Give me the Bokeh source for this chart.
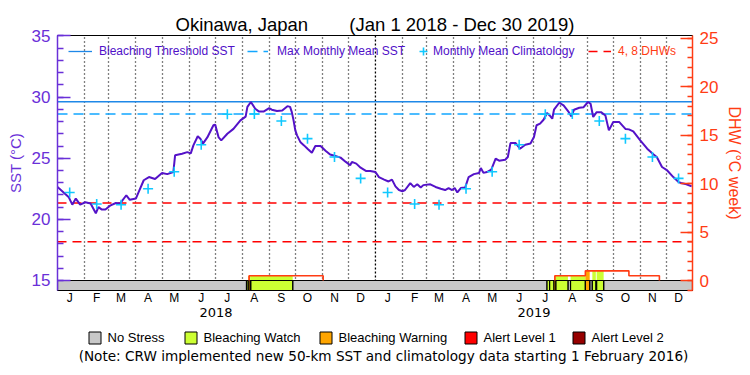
import pandas as pd
from bokeh.plotting import figure
from bokeh.layouts import column
from bokeh.models import (Range1d, LinearAxis, FixedTicker, SingleIntervalTicker,
                          Legend, LegendItem, Label, Span)
from bokeh.embed import file_html
from bokeh.resources import INLINE

# ---------------- data ----------------
START = "2018-01-01"
END = "2019-12-31"          # exclusive end (last day shown: Dec 30 2019)
YEARS = [2018, 2019]
MONTH_LETTERS = ["J", "F", "M", "A", "M", "J", "J", "A", "S", "O", "N", "D"]
TITLE = "Okinawa, Japan\u00a0\u00a0\u00a0\u00a0\u00a0\u00a0\u00a0\u00a0(Jan 1 2018 - Dec 30 2019)"
NOTE = "(Note: CRW implemented new 50-km SST and climatology data starting 1 February 2016)"

# daily SST (sampled) : day offset since 2018-01-01, value in deg C
sst_day = [0, 7, 13, 17, 21, 26, 32, 38, 44, 47, 51, 55, 61, 67, 72, 79, 83, 90, 93, 99,
           105, 112, 120, 126, 133, 135, 143, 149, 153, 156, 161, 164, 167, 172, 179, 181, 185, 188, 195, 202,
           210, 216, 218, 222, 227, 231, 237, 243, 246, 252, 258, 264, 267, 269, 271, 273, 275, 279, 283, 287,
           292, 296, 302, 308, 313, 319, 325, 331, 336, 338, 343, 348, 354, 359, 365, 369, 375, 380, 384, 388,
           392, 396, 399, 405, 409, 413, 417, 420, 428, 434, 440, 445, 449, 453, 456, 459, 463, 468, 472, 478,
           484, 486, 489, 493, 498, 503, 507, 514, 517, 520, 526, 531, 537, 543, 547, 550, 554, 558, 562, 565,
           568, 570, 576, 581, 587, 590, 593, 599, 604, 609, 612, 615, 619, 624, 629, 633, 638, 645, 652, 656,
           661, 669, 677, 684, 688, 694, 700, 707, 713, 716, 722, 728]
sst_val = [22.65, 22.2, 21.8, 21.2, 21.7, 21.2, 21.4, 21.3, 20.5, 21.0,
           20.8, 20.8, 21.15, 21.34, 21.3, 21.97, 21.6, 21.7, 22.2, 23.2,
           23.46, 23.3, 23.8, 23.7, 23.87, 25.24, 25.37, 25.5, 25.4, 26.05,
           26.8, 26.6, 26.2, 26.7, 27.7, 27.75, 26.7, 26.46, 27.0, 27.4,
           28.1, 28.4, 29.2, 29.6, 29.05, 28.83, 28.83, 29.1, 28.97, 28.86,
           28.9, 29.26, 29.2, 28.77, 28.1, 27.28, 26.87, 26.3, 26.05, 25.78,
           25.45, 26.0, 26.0, 25.6, 25.3, 25.18, 25.05, 24.7, 24.42, 24.7,
           24.56, 24.23, 23.96, 23.96, 23.87, 23.46, 23.25, 23.1, 23.25, 22.7,
           22.4, 22.3, 22.4, 22.97, 22.65, 22.87, 22.6, 22.8, 22.87, 22.65,
           22.5, 22.4, 22.56, 22.4, 22.56, 22.2, 22.56, 22.6, 23.46, 23.7,
           23.8, 24.2, 23.8, 23.87, 24.07, 24.97, 24.8, 24.88, 25.1, 26.24,
           26.24, 25.78, 26.1, 26.2, 26.73, 27.7, 27.83, 28.15, 28.7, 28.5,
           28.23, 28.97, 29.54, 29.32, 28.77, 28.42, 28.97, 29.13, 29.18, 29.6,
           29.46, 28.37, 28.77, 28.77, 28.5, 27.28, 27.96, 27.96, 27.4, 27.36,
           27.2, 26.46, 25.78, 25.32, 25.1, 24.28, 24.0, 23.46, 23.05, 22.97,
           22.87, 22.7]

# monthly mean climatology (Jan..Dec)
clim_values = [22.2, 21.25, 21.2, 22.5, 23.9, 26.1, 28.6, 28.62, 28.05, 26.6, 25.1, 23.35]

# bleaching alert status segments (0 no stress, 1 watch, 2 warning, 3 alert 1, 4 alert 2)
status_start = ["2018-01-01", "2018-08-06", "2018-08-08", "2018-08-10", "2018-08-11", "2018-09-28",
                "2019-07-17", "2019-07-20", "2019-07-25", "2019-07-27", "2019-08-10", "2019-08-13",
                "2019-08-30", "2019-09-04", "2019-09-07", "2019-09-11", "2019-09-12", "2019-09-20"]
status_end = ["2018-08-06", "2018-08-08", "2018-08-10", "2018-08-11", "2018-09-28", "2019-07-17",
              "2019-07-20", "2019-07-25", "2019-07-27", "2019-08-10", "2019-08-13", "2019-08-30",
              "2019-09-04", "2019-09-07", "2019-09-11", "2019-09-12", "2019-09-20", "2019-12-31"]
status_level = [0, 1, 2, 1, 1, 0,
                1, 1, 2, 1, 0, 1,
                2, 0, 1, 0, 1, 0]

# degree heating weeks (value from each date onward)
dhw_dates = ["2018-01-01", "2018-08-09", "2018-11-02", "2019-07-26", "2019-08-30", "2019-10-19", "2019-11-23"]
dhw_values = [0, 0.5, 0, 0.5, 1.0, 0.5, 0]
dhw_levels = [4, 8]

STATUS_NAMES = ["No Stress", "Bleaching Watch", "Bleaching Warning", "Alert Level 1", "Alert Level 2"]
STATUS_COLORS = ["#C8C8C8", "#CCFF33", "#FFA500", "#FF0000", "#960000"]

# ---------------- helpers ----------------
T0 = pd.Timestamp(START)


def day(s):
    return (pd.Timestamp(s) - T0).days


x_end = day(END)
mmm = max(clim_values)
threshold = mmm + 1.0

clim_x, clim_y = [], []
for y in YEARS:
    for m in range(12):
        clim_x.append(day(f"{y}-{m + 1:02d}-15"))
        clim_y.append(clim_values[m])

dhw_x = [day(d) for d in dhw_dates]


def dhw_at(d):
    v = 0
    for xd, val in zip(dhw_x, dhw_values):
        if d >= xd:
            v = val
    return v


# ---------------- main figure ----------------
PURPLE = "#6A30D8"
LINE_PURPLE = "#5412C8"
ORANGE = "#FF3C14"
FONT = "Liberation Sans"
FRAME_L, FRAME_R = 57, 58

p = figure(width=750, height=325, output_backend="svg", toolbar_location=None,
           x_range=Range1d(0, x_end), y_range=Range1d(14.18, 35.04),
           min_border_left=FRAME_L, min_border_right=FRAME_R, min_border_top=35, min_border_bottom=35,
           background_fill_color="white", border_fill_color="white")
p.extra_y_ranges = {"dhw": Range1d(-1.03, 25.29)}
p.outline_line_color = "black"
p.outline_line_width = 1

p.title.text = TITLE
p.title.align = "center"
p.title.text_font = FONT
p.title.text_font_size = "18.5px"
p.title.text_font_style = "normal"
p.title.text_color = "black"
p.title.standoff = 1

# month grid (dotted) at month starts
month_starts = [day(f"{y}-{m:02d}-01") for y in YEARS for m in range(1, 13)]
p.xgrid.ticker = FixedTicker(ticks=[d for d in month_starts if d not in (0, 365)])
p.xgrid.grid_line_color = "black"
p.xgrid.grid_line_dash = "1 3"
p.xgrid.grid_line_width = 1.3
p.ygrid.grid_line_color = None
p.add_layout(Span(location=day("2019-01-01"), dimension="height", line_color="black",
                  line_dash="2 2", line_width=1.3, level="underlay"))

dr = p.extra_y_ranges["dhw"]

# fill under DHW coloured by alert status
fl, fr, ft, fc = [], [], [], []
for s, e, lv in zip(status_start, status_end, status_level):
    if lv >= 1:
        v = dhw_at((day(s) + day(e)) / 2)
        if v > 0:
            fl.append(day(s)); fr.append(day(e)); ft.append(v); fc.append(STATUS_COLORS[lv])
p.quad(left=fl, right=fr, bottom=0, top=ft, fill_color=fc, line_color=None, y_range_name="dhw")

# status bar
for lv in range(5):
    L = [day(s) for s, l in zip(status_start, status_level) if l == lv]
    R = [day(e) for e, l in zip(status_end, status_level) if l == lv]
    p.quad(left=L, right=R, bottom=dr.start, top=0, fill_color=STATUS_COLORS[lv],
           line_color="black", line_width=1.2, y_range_name="dhw")

# DHW outline (red step)
runs_x, runs_y = [], []
cx, cy = None, None
prev = 0
for xd, v in zip(dhw_x, dhw_values):
    if prev == 0 and v > 0:
        cx, cy = [xd, xd], [0, v]
    elif prev > 0 and v > 0:
        cx += [xd, xd]; cy += [prev, v]
    elif prev > 0 and v == 0:
        cx += [xd, xd]; cy += [prev, 0]
        runs_x.append(cx); runs_y.append(cy)
    prev = v
p.multi_line(xs=runs_x, ys=runs_y, line_color=ORANGE, line_width=1.6, y_range_name="dhw")

# DHW 4 / 8 lines
dhw_r = None
for lvl in dhw_levels:
    dhw_r = p.line(x=[0, x_end], y=[lvl, lvl], line_color="#FF0000", line_dash="9 6",
                   line_width=1.3, y_range_name="dhw")

# threshold and MMM
thr_r = p.line(x=[0, x_end], y=[threshold, threshold], line_color="#1E88E8", line_width=1.3)
mmm_r = p.line(x=[0, x_end], y=[mmm, mmm], line_color="#12A6FF", line_width=1.5, line_dash="10 6")

# SST
p.line(x=sst_day, y=sst_val, line_color=LINE_PURPLE, line_width=2)

# climatology crosses
clim_r = p.scatter(x=clim_x, y=clim_y, marker="cross", size=10, line_width=1.6, line_color="#10C8FF")

# ---------------- axes ----------------
yax = p.yaxis[0]
yax.ticker = SingleIntervalTicker(interval=5, num_minor_ticks=5)
yax.axis_label = "SST (°C)"
yax.axis_line_color = PURPLE
yax.axis_line_width = 1.5
yax.major_tick_line_color = PURPLE
yax.minor_tick_line_color = PURPLE
yax.major_tick_line_width = 1.5
yax.minor_tick_line_width = 1.5
yax.major_tick_in = 13
yax.major_tick_out = 0
yax.minor_tick_in = 6
yax.minor_tick_out = 0
yax.major_label_text_color = PURPLE
yax.major_label_text_font = FONT
yax.major_label_text_font_size = "17px"
yax.major_label_standoff = 7
yax.axis_label_text_color = PURPLE
yax.axis_label_text_font = FONT
yax.axis_label_text_font_style = "normal"
yax.axis_label_text_font_size = "15px"
yax.axis_label_standoff = 5

rax = LinearAxis(y_range_name="dhw", ticker=SingleIntervalTicker(interval=5, num_minor_ticks=5),
                 axis_label="DHW (°C week)")
rax.axis_line_color = ORANGE
rax.axis_line_width = 1.5
rax.major_tick_line_color = ORANGE
rax.minor_tick_line_color = ORANGE
rax.major_tick_line_width = 1.5
rax.minor_tick_line_width = 1.5
rax.major_tick_in = 12
rax.major_tick_out = 0
rax.minor_tick_in = 5
rax.minor_tick_out = 0
rax.major_label_text_color = ORANGE
rax.major_label_text_font = FONT
rax.major_label_text_font_size = "17px"
rax.major_label_standoff = 7
rax.axis_label_text_color = ORANGE
rax.axis_label_text_font = FONT
rax.axis_label_text_font_style = "normal"
rax.axis_label_text_font_size = "16px"
rax.axis_label_standoff = 5
p.add_layout(rax, "right")

mid_month = [day(f"{y}-{m:02d}-15") for y in YEARS for m in range(1, 13)]
xax = p.xaxis[0]
xax.ticker = FixedTicker(ticks=mid_month, minor_ticks=[])
xax.major_label_overrides = {d: MONTH_LETTERS[i % 12] for i, d in enumerate(mid_month)}
xax.axis_line_color = "black"
xax.axis_line_width = 1.2
xax.major_tick_in = 0
xax.major_tick_out = 0
xax.minor_tick_line_color = None
xax.major_label_standoff = 0
xax.axis_label_standoff = 0
xax.major_label_text_font = FONT
xax.major_label_text_font_size = "12px"
xax.major_label_text_color = "black"

mid_year = [(day(f"{y}-01-01") + min(day(f"{y + 1}-01-01"), x_end)) // 2 for y in YEARS]
yrax = LinearAxis(ticker=FixedTicker(ticks=mid_year, minor_ticks=[]),
                  major_label_overrides={d: str(y) for d, y in zip(mid_year, YEARS)})
yrax.axis_line_color = None
yrax.major_tick_line_color = None
yrax.minor_tick_line_color = None
yrax.major_tick_in = 0
yrax.major_tick_out = 0
yrax.major_label_standoff = 0
yrax.axis_label_standoff = 0
yrax.major_label_text_font = "DejaVu Sans"
yrax.major_label_text_font_size = "13px"
yrax.major_label_text_color = "black"
p.add_layout(yrax, "below")


# ---------------- legends ----------------
def single_legend(fig, renderer, label, vx, vy, color, gw, gh, standoff, size, font=FONT):
    lg = Legend(items=[LegendItem(label=label, renderers=[renderer])], location=(vx, vy),
                orientation="horizontal", padding=0, margin=0, spacing=0,
                glyph_width=gw, glyph_height=gh, label_height=gh, label_standoff=standoff,
                label_text_font=font, label_text_font_size=size, label_text_color=color,
                border_line_alpha=0, background_fill_alpha=0)
    fig.add_layout(lg)


LEG_TXT = "#5010C8"
single_legend(p, thr_r, "Bleaching Threshold SST", 11, 232, LEG_TXT, 24, 14, 7, "12px")
single_legend(p, mmm_r, "Max Monthly Mean SST", 190, 232, LEG_TXT, 21, 14, 9, "12px")
single_legend(p, clim_r, "Monthly Mean Climatology", 356, 229, LEG_TXT, 20, 20, 0, "12px")
single_legend(p, dhw_r, "4, 8 DHWs", 531, 232, ORANGE, 23, 14, 7, "12px")

# ---------------- bottom key + note (frame aligned with main plot) ----------------
p2 = figure(width=750, height=50, output_backend="svg", toolbar_location=None,
            x_range=Range1d(FRAME_L, 750 - FRAME_R), y_range=Range1d(0, 50),
            x_axis_location=None, y_axis_location=None,
            min_border_left=FRAME_L, min_border_right=FRAME_R, min_border_top=0, min_border_bottom=0,
            outline_line_color=None, background_fill_color="white", border_fill_color="white")
p2.grid.visible = False

nan = float("nan")
box_x = [86.5, 182.5, 317.5, 462.5, 570.5]     # key swatch left edges (page px)
for lv in range(5):
    r = p2.quad(left=[nan], right=[nan], bottom=[nan], top=[nan], fill_color=STATUS_COLORS[lv],
                line_color="black", line_width=1)
    single_legend(p2, r, STATUS_NAMES[lv], box_x[lv] - FRAME_L, 30.5, "black", 15, 15, 6, "13px")

p2.add_layout(Label(x=383, y=20, text=NOTE, text_font="DejaVu Sans", text_font_size="13.6px",
                    text_align="center", text_baseline="middle", text_color="black"))

layout = column(p, p2, spacing=0)
open("out.html", "w").write(file_html(layout, INLINE))
